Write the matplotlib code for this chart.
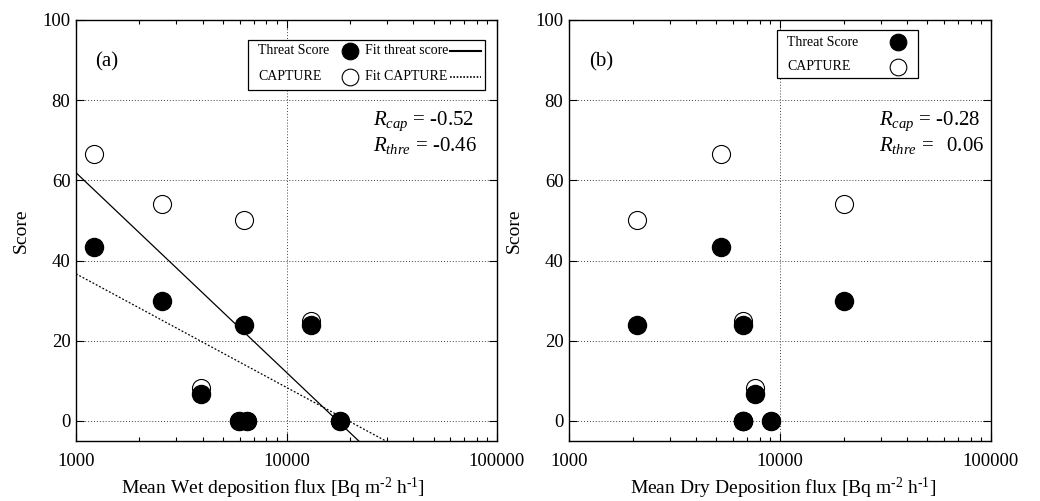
import numpy as np
import matplotlib
matplotlib.use("Agg")
import matplotlib.pyplot as plt
from matplotlib.patches import Rectangle
from matplotlib.ticker import LogLocator, NullFormatter, FixedLocator

plt.rcParams['font.family'] = ['Liberation Serif', 'DejaVu Serif']
plt.rcParams['mathtext.fontset'] = 'custom'
plt.rcParams['mathtext.rm'] = 'Liberation Serif'
plt.rcParams['mathtext.it'] = 'Liberation Serif:italic'

# station values, (a) wet flux / (b) dry flux
wet_flux = [1220, 2570, 6300, 13050, 3930, 5930, 6480, 17950]
dry_flux = [5240, 20090, 2095, 6650, 7590, 6650, 9040, 6650]
threat = [43.3, 30.0, 24.0, 24.0, 6.7, 0.0, 0.0, 0.0]
capture = [66.7, 54.2, 50.0, 25.0, 8.3, 0.0, 0.0, 0.0]

r_wet = ['-0.52', '-0.46']
r_dry = ['-0.28', ' 0.06']

W, H = 1040, 501
fig = plt.figure(figsize=(10.4, 5.01), dpi=100)

boxes = [(76, 20, 497, 441), (569, 20, 991, 441)]


def px(ax_box, x, y):
    l, t, r, b = ax_box
    return (x - l) / (r - l), (b - y) / (b - t)


def setup(box):
    l, t, r, b = box
    ax = fig.add_axes([l / W, (H - b) / H, (r - l) / W, (b - t) / H])
    ax.set_xscale('log')
    ax.set_xlim(1000, 100000)
    ax.set_ylim(-5, 100)
    ax.xaxis.set_major_locator(FixedLocator([1000, 10000, 100000]))
    ax.xaxis.set_major_formatter(plt.FuncFormatter(lambda v, p: '%d' % v))
    ax.xaxis.set_minor_locator(LogLocator(base=10, subs=np.arange(2, 10)))
    ax.xaxis.set_minor_formatter(NullFormatter())
    ax.set_yticks([0, 20, 40, 60, 80, 100])
    ax.tick_params(which='both', direction='in', top=True, right=True,
                   labelsize=13.5, width=0.8)
    ax.tick_params(which='major', length=6)
    ax.tick_params(which='minor', length=3)
    ax.tick_params(axis='x', pad=9)
    ax.tick_params(axis='y', pad=4)
    for s in ax.spines.values():
        s.set_linewidth(1.0)
    for yv in [0, 20, 40, 60, 80]:
        ax.axhline(yv, color='0.25', lw=0.7, ls=(0, (1, 2)), zorder=0)
    ax.axvline(10000, color='0.25', lw=0.7, ls=(0, (1, 2)), zorder=0)
    ax.set_ylabel('Score', fontsize=14)
    ax.yaxis.set_label_coords(px(box, l - 46, 0)[0], 0.5)
    return ax


def points(ax, x, cap, thr):
    ax.plot(x, cap, 'o', ms=13, mfc='white', mec='black', mew=0.8, ls='none',
            zorder=3, clip_on=False)
    ax.plot(x, thr, 'o', ms=13, mfc='black', mec='black', ls='none',
            zorder=4, clip_on=False)


def rtext(ax, box, x, y0, vals):
    for i, (name, v) in enumerate(zip(['cap', 'thre'], vals)):
        fx, fy = px(box, x, y0 + i * 24)
        ax.text(fx, fy, r'$R_{%s}$ = %s' % (name, v.replace(' ', '\u2009\u2009')),
                transform=ax.transAxes, fontsize=15, va='center', ha='left')


unit = r' [Bq m$^{\text{-2}}$ h$^{\text{-1}}$]'

# (a)
box = boxes[0]
ax = setup(box)
points(ax, wet_flux, capture, threat)
lx = np.log10(wet_flux)
xs = np.logspace(3, 5, 50)
c_fit = np.polyfit(lx, capture, 1)
t_fit = np.polyfit(lx, threat, 1)
ax.plot(xs, np.polyval(c_fit, np.log10(xs)), color='black', lw=0.9, zorder=2)
ax.plot(xs, np.polyval(t_fit, np.log10(xs)), color='black', lw=0.9,
        ls=(0, (1.5, 1.5)), zorder=2)
ax.text(*px(box, 95, 62), '(a)', transform=ax.transAxes, fontsize=15, va='center')
rtext(ax, box, 373, 121, r_wet)
ax.set_xlabel('Mean Wet deposition flux' + unit, fontsize=14)
ax.xaxis.set_label_coords(px(box, 273, 0)[0], px(box, 0, 476)[1])

x0, y0 = px(box, 248, 90)
x1, y1 = px(box, 485, 40)
ax.add_patch(Rectangle((x0, y0), x1 - x0, y1 - y0, transform=ax.transAxes,
                       fill=True, fc='white', ec='black', lw=0.9, zorder=5))
for label, fit, row, mfc, ls in [('Threat Score', 'Fit threat score', 51, 'black', '-'),
                                 ('CAPTURE', 'Fit CAPTURE', 77, 'white', (0, (1, 1)))]:
    ax.text(*px(box, 258, row), label, transform=ax.transAxes, fontsize=10,
            va='center', zorder=6)
    ax.plot(*px(box, 350, row), 'o', ms=12, mfc=mfc, mec='black', mew=0.8,
            transform=ax.transAxes, zorder=6, clip_on=False)
    ax.text(*px(box, 365, row), fit, transform=ax.transAxes, fontsize=10,
            va='center', zorder=6)
    (ax0, ay), (ax1, _) = px(box, 450, row), px(box, 481, row)
    ax.plot([ax0, ax1], [ay, ay], color='black', lw=1.5 if ls == '-' else 1.2,
            ls=ls, transform=ax.transAxes, zorder=6)

# (b)
box = boxes[1]
ax = setup(box)
points(ax, dry_flux, capture, threat)
ax.text(*px(box, 589, 62), '(b)', transform=ax.transAxes, fontsize=15, va='center')
rtext(ax, box, 879, 121, r_dry)
ax.set_xlabel('Mean Dry Deposition flux' + unit, fontsize=14)
ax.xaxis.set_label_coords(px(box, 783, 0)[0], px(box, 0, 476)[1])

x0, y0 = px(box, 777, 78)
x1, y1 = px(box, 918, 30)
ax.add_patch(Rectangle((x0, y0), x1 - x0, y1 - y0, transform=ax.transAxes,
                       fill=True, fc='white', ec='black', lw=0.9, zorder=5))
for label, row, mfc in [('Threat Score', 42, 'black'), ('CAPTURE', 67, 'white')]:
    ax.text(*px(box, 787, row), label, transform=ax.transAxes, fontsize=10,
            va='center', zorder=6)
    ax.plot(*px(box, 898, row), 'o', ms=12, mfc=mfc, mec='black', mew=0.8,
            transform=ax.transAxes, zorder=6, clip_on=False)

fig.savefig('out.png', dpi=100)
